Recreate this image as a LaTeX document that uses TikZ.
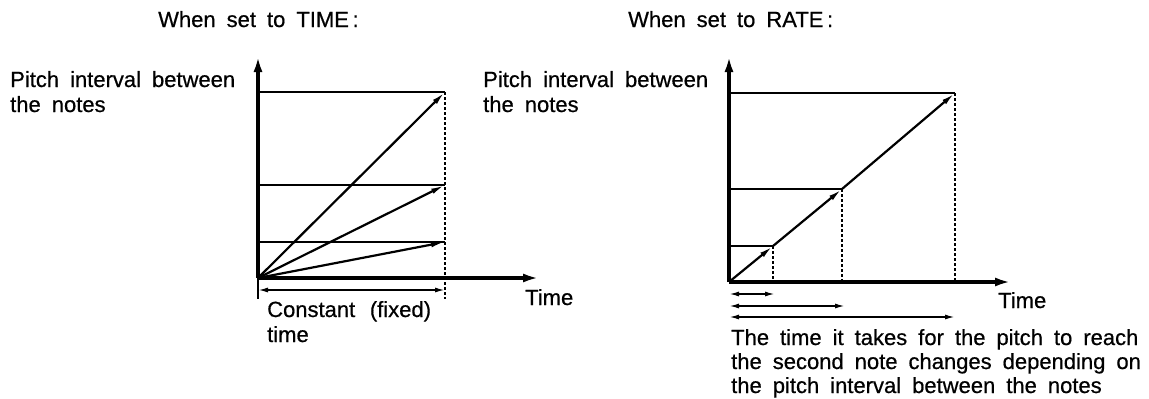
\documentclass[tikz,border=0pt]{standalone}
\usepackage{fontspec}
\setmainfont{Liberation Sans}[WordSpace={1.8,1,1},FakeBold=0.6]
\usetikzlibrary{arrows.meta}
\tikzset{
  axis/.style={line width=3.2pt,-{Latex[length=16pt,width=9pt]}},
  ray/.style={line width=2.2pt,-{Latex[length=14pt,width=5.5pt]}},
  level/.style={line width=1.5pt},
  guide/.style={line width=2pt,dash pattern=on 3pt off 2pt},
  dim/.style={line width=1.6pt,{Latex[length=10pt,width=5pt]}-{Latex[length=10pt,width=5pt]}},
  lbl/.style={anchor=base west,inner sep=0pt,font=\fontsize{22pt}{25pt}\selectfont,align=left},
}
\begin{document}
\begin{tikzpicture}[x={(1pt,0)},y={(0,-1pt)}]
\useasboundingbox (0,0) rectangle (1149,399);
% ---------- left: TIME ----------
\node[lbl] (t1) at (158,27) {When set to TIME\,:};
\node[lbl] (y1) at (10,112) {Pitch interval between\\the notes};
\coordinate (O1) at (258,278);
\coordinate (Y1) at (258,56);
\coordinate (X1) at (539,278);
\coordinate (A1) at (445,92);
\coordinate (B1) at (445,185);
\coordinate (C1) at (445,242);
\coordinate (A1l) at (258,92);
\coordinate (B1l) at (258,185);
\coordinate (C1l) at (258,242);
\coordinate (D1) at (445,299);
\coordinate (D1l) at (258,299);
\coordinate (E1) at (258,290);
\coordinate (F1) at (445,290);
\draw[level,line width=2.2pt] (A1l) -- (A1);
\draw[level] (B1l) -- (B1);
\draw[level,line width=1.9pt] (C1l) -- (C1);
\draw[guide] (A1) -- (D1);
\draw[line width=1.8pt] (O1) -- (D1l);
\draw[ray] (O1) -- (A1);
\draw[ray] (O1) -- (B1);
\draw[ray] (O1) -- (C1);
\draw[axis] (O1) -- (Y1);
\draw[axis] (O1) -- (X1);
\draw[dim] (E1) -- (F1);
\node[lbl] (c1) at (267,342) {Constant \,(fixed)\\time};
\node[lbl] (tm1) at (525,305) {Time};
% ---------- right: RATE ----------
\node[lbl] (t2) at (628,27) {When set to RATE\,:};
\node[lbl] (y2) at (483,112) {Pitch interval between\\the notes};
\coordinate (O2) at (729,282);
\coordinate (Y2) at (729,56);
\coordinate (X2) at (1011,282);
\coordinate (P1) at (773,246);
\coordinate (P2) at (842,189);
\coordinate (P3) at (955,93);
\coordinate (P1l) at (729,246);
\coordinate (P2l) at (729,189);
\coordinate (P3l) at (729,93);
\coordinate (P1b) at (773,282);
\coordinate (P2b) at (842,282);
\coordinate (P3b) at (955,282);
\draw[level,line width=1.9pt] (P3l) -- (P3);
\draw[level] (P2l) -- (P2);
\draw[level] (P1l) -- (P1);
\draw[guide] (P1) -- (P1b);
\draw[guide] (P2) -- (P2b);
\draw[guide] (P3) -- (P3b);
\draw[ray] (O2) -- (P1);
\draw[ray] (P1) -- (P2);
\draw[ray] (P2) -- (P3);
\draw[axis] (O2) -- (Y2);
\draw[axis] (O2) -- (X2);
\coordinate (S1) at (729,294);
\coordinate (S2) at (729,306);
\coordinate (S3) at (729,317);
\coordinate (T1) at (775,294);
\coordinate (T2) at (845,306);
\coordinate (T3) at (955,317);
\draw[dim] (S1) -- (T1);
\draw[dim] (S2) -- (T2);
\draw[dim] (S3) -- (T3);
\node[lbl] (tm2) at (998,308) {Time};
\node[lbl,font=\fontsize{22pt}{24pt}\selectfont] (c2) at (731,393) {The time it takes for the pitch to reach\\the second note changes depending on\\the pitch interval between the notes};
\end{tikzpicture}
\end{document}
